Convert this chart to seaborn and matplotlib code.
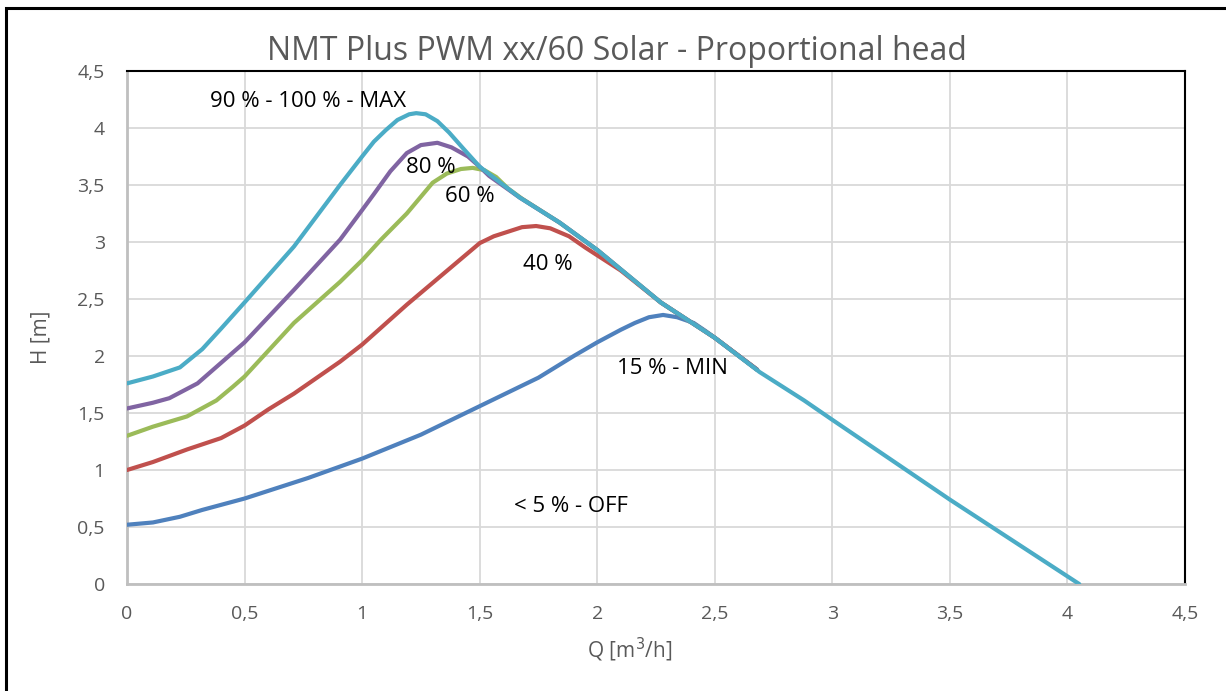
import numpy as np
import pandas as pd
import seaborn as sns
import matplotlib.pyplot as plt
from matplotlib.patches import Rectangle

# values (Q in m3/h, H in m)
q_min = [0, 0.11, 0.225, 0.32, 0.5, 0.77, 1.0, 1.25, 1.5, 1.75, 1.9, 2.0, 2.1, 2.16, 2.22, 2.28,
         2.34, 2.41, 2.46, 2.5, 2.68]
h_min = [0.52, 0.54, 0.59, 0.65, 0.75, 0.93, 1.10, 1.31, 1.56, 1.81, 2.0, 2.12, 2.23, 2.29, 2.34, 2.36,
         2.34, 2.29, 2.22, 2.16, 1.88]

q_40 = [0, 0.11, 0.255, 0.40, 0.5, 0.6, 0.71, 0.906, 1.0, 1.19, 1.5, 1.56, 1.62, 1.68, 1.74, 1.8,
        1.88, 1.95, 2.01, 2.1, 2.27, 2.5, 2.68]
h_40 = [1.0, 1.07, 1.18, 1.28, 1.39, 1.53, 1.67, 1.95, 2.10, 2.45, 2.99, 3.05, 3.09, 3.13, 3.14, 3.12,
        3.05, 2.95, 2.87, 2.75, 2.47, 2.16, 1.88]

q_60 = [0, 0.11, 0.255, 0.38, 0.45, 0.5, 0.71, 0.906, 1.0, 1.08, 1.19, 1.3, 1.36, 1.42, 1.47, 1.52,
        1.57, 1.62, 1.68, 1.84, 2.0, 2.27, 2.5, 2.68]
h_60 = [1.30, 1.38, 1.47, 1.61, 1.73, 1.82, 2.29, 2.65, 2.84, 3.02, 3.25, 3.52, 3.60, 3.64, 3.65, 3.63,
        3.57, 3.47, 3.38, 3.17, 2.93, 2.47, 2.16, 1.88]

q_80 = [0, 0.11, 0.18, 0.3, 0.4, 0.5, 0.71, 0.906, 1.0, 1.05, 1.12, 1.19, 1.25, 1.32, 1.38, 1.45,
        1.5, 1.54, 1.67, 1.84, 2.0, 2.27, 2.5, 2.68]
h_80 = [1.54, 1.59, 1.63, 1.76, 1.94, 2.12, 2.58, 3.02, 3.28, 3.42, 3.62, 3.78, 3.85, 3.87, 3.83, 3.75,
        3.66, 3.58, 3.39, 3.17, 2.93, 2.47, 2.16, 1.88]

q_max = [0, 0.11, 0.225, 0.32, 0.4, 0.5, 0.71, 0.906, 1.0, 1.05, 1.1, 1.15, 1.2, 1.23, 1.27, 1.32,
         1.37, 1.43, 1.5, 1.67, 1.84, 2.0, 2.27, 2.5, 2.69, 2.88, 3.0, 3.5, 4.05]
h_max = [1.76, 1.82, 1.90, 2.06, 2.24, 2.47, 2.96, 3.50, 3.75, 3.88, 3.98, 4.07, 4.12, 4.13, 4.12, 4.06,
         3.96, 3.82, 3.66, 3.39, 3.17, 2.93, 2.47, 2.16, 1.86, 1.61, 1.44, 0.74, 0.0]

curve_names = ["15", "40", "60", "80", "max"]
curve_colors = ["#4F81BD", "#C0504D", "#9BBB59", "#8064A2", "#4BACC6"]

label_texts = ["90 % - 100 % - MAX", "80 %", "60 %", "40 %", "15 % - MIN", "< 5 % - OFF"]
label_q = [0.77, 1.29, 1.46, 1.79, 2.32, 1.89]
label_h = [4.23, 3.65, 3.40, 2.80, 1.89, 0.68]

ticks = [0, 0.5, 1, 1.5, 2, 2.5, 3, 3.5, 4, 4.5]
tick_labels = ["0", "0,5", "1", "1,5", "2", "2,5", "3", "3,5", "4", "4,5"]

df = pd.concat([
    pd.DataFrame({"Q": q, "H": h, "curve": n})
    for q, h, n in zip([q_min, q_40, q_60, q_80, q_max],
                       [h_min, h_40, h_60, h_80, h_max], curve_names)
], ignore_index=True)

sns.set_theme(style="white")
plt.rcParams["font.family"] = ["Open Sans", "DejaVu Sans"]

fig = plt.figure(figsize=(12.26, 6.91), dpi=100)
ax = fig.add_axes([0.1036, 0.1548, 0.863, 0.7425])

sns.lineplot(data=df, x="Q", y="H", hue="curve", hue_order=curve_names,
             palette=curve_colors, estimator=None, sort=False,
             linewidth=3.0, legend=False, ax=ax, zorder=3)
for line in ax.get_lines():
    line.set_solid_joinstyle("round")
    line.set_solid_capstyle("round")

ax.set_xlim(0, 4.5)
ax.set_ylim(0, 4.5)
ax.set_xticks(ticks)
ax.set_xticklabels(tick_labels)
ax.set_yticks(ticks)
ax.set_yticklabels(tick_labels)
ax.tick_params(length=0, labelsize=14, labelcolor="#595959")
ax.tick_params(axis="x", pad=15)
ax.tick_params(axis="y", pad=16)
ax.grid(True, color="#D9D9D9", linewidth=1.3)
ax.set_axisbelow(True)

for side in ["left", "bottom"]:
    ax.spines[side].set_color("#BFBFBF")
    ax.spines[side].set_linewidth(2)
for side in ["top", "right"]:
    ax.spines[side].set_color("black")
    ax.spines[side].set_linewidth(1.5)

ax.set_xlabel("Q [m$^3$/h]", fontsize=15, color="#595959")
ax.set_ylabel("H [m]", fontsize=15, color="#595959")
ax.xaxis.set_label_coords(0.475, -0.101)
ax.yaxis.set_label_coords(-0.071, 0.48)

for t, x, y in zip(label_texts, label_q, label_h):
    ax.text(x, y, t, fontsize=16, color="black", ha="center", va="center", zorder=4)

fig.text(617 / 1226, 1 - 51 / 691, "NMT Plus PWM xx/60 Solar - Proportional head",
         fontsize=23, color="#595959", ha="center", va="center")

fig.patches.append(Rectangle((6 / 1226, -0.05), 1.1, 1 - 8 / 691 + 0.05,
                             transform=fig.transFigure, fill=False,
                             edgecolor="black", linewidth=2.2))

plt.savefig("out.png", dpi=100)
